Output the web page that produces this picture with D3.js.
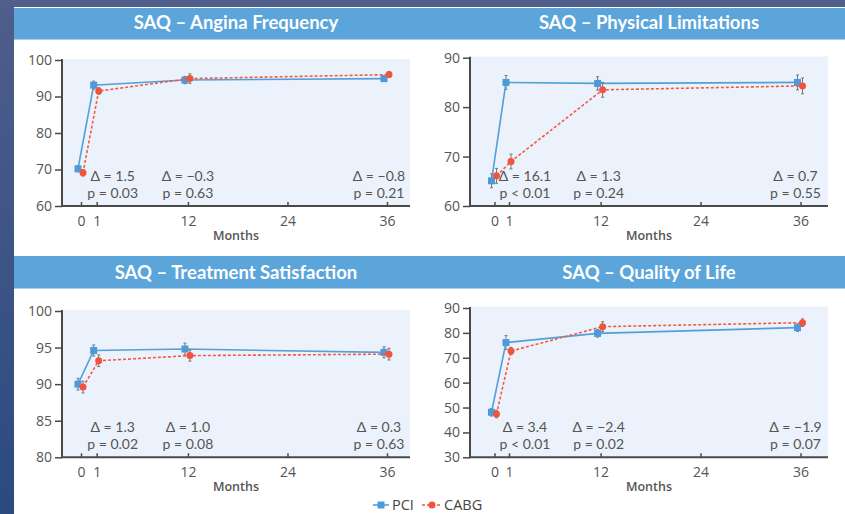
<!DOCTYPE html>
<html>
<head>
<meta charset="utf-8">
<script src="https://cdn.jsdelivr.net/npm/d3@7"></script>
<style>
  body { margin: 0; background: #fff; }
  svg { display: block; font-family: 'Open Sans', sans-serif; }
</style>
</head>
<body>
<div id="chart"></div>
<script>
// months of follow-up
const months = [0, 1, 12, 36]
const xTicks = [0, 1, 12, 24, 36]

// SAQ scores, mean and error
const anginaPci = [70.2, 93.1, 94.5, 94.9]
const anginaPciErr = [0.8, 1.1, 1.0, 0.8]
const anginaCabg = [69.1, 91.5, 94.9, 96.0]
const anginaCabgErr = [0.9, 0.9, 1.3, 0.8]

const physPci = [65.1, 85.0, 84.8, 85.0]
const physPciErr = [1.4, 1.4, 1.35, 1.5]
const physCabg = [66.1, 69.0, 83.5, 84.3]
const physCabgErr = [1.5, 1.5, 1.5, 1.6]

const satPci = [90.0, 94.6, 94.8, 94.35]
const satPciErr = [0.8, 0.75, 0.8, 0.75]
const satCabg = [89.6, 93.2, 93.9, 94.1]
const satCabgErr = [0.8, 0.8, 0.75, 0.8]

const qolPci = [48.1, 76.1, 79.8, 82.1]
const qolPciErr = [1.5, 2.8, 1.5, 1.5]
const qolCabg = [47.4, 72.7, 82.5, 84.1]
const qolCabgErr = [1.5, 1.5, 2.0, 1.5]

// annotations at 1, 12 and 36 months
const annMonths = [1, 12, 36]
const anginaDelta = ['Δ = 1.5', 'Δ = −0.3', 'Δ = −0.8']
const anginaP = ['p = 0.03', 'p = 0.63', 'p = 0.21']
const physDelta = ['Δ = 16.1', 'Δ = 1.3', 'Δ = 0.7']
const physP = ['p < 0.01', 'p = 0.24', 'p = 0.55']
const satDelta = ['Δ = 1.3', 'Δ = 1.0', 'Δ = 0.3']
const satP = ['p = 0.02', 'p = 0.08', 'p = 0.63']
const qolDelta = ['Δ = 3.4', 'Δ = −2.4', 'Δ = −1.9']
const qolP = ['p < 0.01', 'p = 0.02', 'p = 0.07']

const anginaTicks = [60, 70, 80, 90, 100]
const physTicks = [60, 70, 80, 90]
const satTicks = [80, 85, 90, 95, 100]
const qolTicks = [30, 40, 50, 60, 70, 80, 90]

const seriesNames = ['PCI', 'CABG']
const PCI_COLOR = '#559fd9'
const CABG_COLOR = '#f15a43'

const W = 845, H = 514

// column / row geometry
const cols = [
  { axis: 62, right: 410, xr: [81, 96.7, 387], ann: [16, 0, -8] },
  { axis: 470, right: 828, xr: [494.5, 509, 800.5], ann: [16, -2, -5] }
]
const rows = [
  { bar: [8, 40], bottom: 206, titleY: 29 },
  { bar: [256, 289], bottom: 457.3, titleY: 279 }
]

const panels = [
  { title: 'SAQ – Angina Frequency', col: 0, row: 0, top: 60, bgTop: 59, ticks: anginaTicks,
    pci: anginaPci, pciErr: anginaPciErr, cabg: anginaCabg, cabgErr: anginaCabgErr, delta: anginaDelta, p: anginaP },
  { title: 'SAQ – Physical Limitations', col: 1, row: 0, top: 57.7, bgTop: 56.5, ticks: physTicks,
    pci: physPci, pciErr: physPciErr, cabg: physCabg, cabgErr: physCabgErr, delta: physDelta, p: physP },
  { title: 'SAQ – Treatment Satisfaction', col: 0, row: 1, top: 311, bgTop: 310, ticks: satTicks,
    pci: satPci, pciErr: satPciErr, cabg: satCabg, cabgErr: satCabgErr, delta: satDelta, p: satP },
  { title: 'SAQ – Quality of Life', col: 1, row: 1, top: 308, bgTop: 306.5, ticks: qolTicks,
    pci: qolPci, pciErr: qolPciErr, cabg: qolCabg, cabgErr: qolCabgErr, delta: qolDelta, p: qolP }
]

const svg = d3.select('#chart').append('svg')
  .attr('width', W)
  .attr('height', H)

const defs = svg.append('defs')
const grad = defs.append('linearGradient')
  .attr('id', 'side')
  .attr('x1', 0).attr('y1', 0).attr('x2', 0).attr('y2', 1)
grad.append('stop').attr('offset', '0%').attr('stop-color', '#4f5e8b')
grad.append('stop').attr('offset', '100%').attr('stop-color', '#2b4a80')

svg.append('rect').attr('width', W).attr('height', H).attr('fill', 'url(#side)')
svg.append('rect').attr('x', 14).attr('y', 7).attr('width', W - 14).attr('height', H - 7).attr('fill', '#fff')

// title bars
rows.forEach(r => {
  svg.append('rect')
    .attr('x', 14).attr('y', r.bar[0])
    .attr('width', W - 14).attr('height', r.bar[1] - r.bar[0])
    .attr('fill', '#5ba5db')
  svg.append('rect')
    .attr('x', 14).attr('y', r.bar[1] - 1)
    .attr('width', W - 14).attr('height', 1)
    .attr('fill', '#a3cdee')
})

panels.forEach(p => {
  const c = cols[p.col]
  const r = rows[p.row]

  const x = d3.scaleLinear().domain([0, 1, 36]).range(c.xr)
  const y = d3.scaleLinear()
    .domain(d3.extent(p.ticks))
    .range([r.bottom, p.top])

  const g = svg.append('g')

  g.append('text')
    .attr('x', (c.axis + c.right) / 2)
    .attr('y', r.titleY)
    .attr('text-anchor', 'middle')
    .attr('fill', '#fff')
    .style('font-family', 'Lato, sans-serif')
    .style('font-size', '18.5px')
    .style('font-weight', '700')
    .text(p.title)

  g.append('rect')
    .attr('x', c.axis)
    .attr('y', p.bgTop)
    .attr('width', c.right - c.axis)
    .attr('height', r.bottom - p.bgTop)
    .attr('fill', '#ecf2fb')

  // y axis
  const yAxis = g.append('g')
    .attr('transform', `translate(${c.axis},0)`)
    .call(d3.axisLeft(y).tickValues(p.ticks).tickSize(7).tickPadding(3))
  yAxis.select('.domain').attr('stroke', '#4a4a4a').attr('stroke-width', 2)
    .attr('d', `M0,${p.top - 1}V${r.bottom}`)
  yAxis.selectAll('.tick line').attr('stroke', '#4a4a4a').attr('stroke-width', 1.5)
  yAxis.selectAll('.tick text')
    .attr('fill', '#555')
    .style('font-size', '14px')
    .style('font-family', 'Open Sans, sans-serif')

  // x axis, ticks pointing inward
  const xAxis = g.append('g')
    .attr('transform', `translate(0,${r.bottom})`)
    .call(d3.axisBottom(x).tickValues(xTicks).tickSize(-4).tickPadding(8).tickFormat(d3.format('d')))
  xAxis.select('.domain').attr('stroke', '#4a4a4a').attr('stroke-width', 2)
    .attr('d', `M${c.axis - 1},0H${c.right}`)
  xAxis.selectAll('.tick line').attr('stroke', '#4a4a4a').attr('stroke-width', 1.5)
  xAxis.selectAll('.tick text')
    .attr('fill', '#555')
    .attr('dy', '0.85em')
    .style('font-size', '14px')
    .style('font-family', 'Open Sans, sans-serif')

  g.append('text')
    .attr('x', (c.axis + c.right) / 2)
    .attr('y', r.bottom + 34)
    .attr('text-anchor', 'middle')
    .attr('fill', '#555')
    .style('font-size', '12.5px')
    .style('font-weight', '600')
    .text('Months')

  // annotations
  annMonths.forEach((m, i) => {
    const ax = x(m) + c.ann[i]
    g.append('text')
      .attr('x', ax).attr('y', r.bottom - 25)
      .attr('text-anchor', 'middle')
      .attr('fill', '#555')
      .style('font-family', 'Lato, sans-serif')
      .style('font-size', '14px')
      .text(p.delta[i])
    g.append('text')
      .attr('x', ax).attr('y', r.bottom - 8)
      .attr('text-anchor', 'middle')
      .attr('fill', '#555')
      .style('font-family', 'Lato, sans-serif')
      .style('font-size', '14px')
      .text(p.p[i])
  })

  const series = [
    { name: 'PCI', vals: p.pci, errs: p.pciErr, color: PCI_COLOR, dx: -3, dash: null },
    { name: 'CABG', vals: p.cabg, errs: p.cabgErr, color: CABG_COLOR, dx: 2, dash: '3,2' }
  ]

  series.forEach(s => {
    const pts = months.map((m, i) => ({ m, v: s.vals[i], e: s.errs[i] }))
    const px = d => x(d.m) + s.dx

    // error bars
    const eb = g.append('g').attr('stroke', '#777').attr('stroke-width', 1)
    eb.selectAll('line.bar')
      .data(pts)
      .join('line')
      .attr('class', 'bar')
      .attr('x1', px).attr('x2', px)
      .attr('y1', d => y(d.v - d.e)).attr('y2', d => y(d.v + d.e))
    eb.selectAll('line.capTop')
      .data(pts)
      .join('line')
      .attr('class', 'capTop')
      .attr('x1', d => px(d) - 1.5).attr('x2', d => px(d) + 1.5)
      .attr('y1', d => y(d.v + d.e)).attr('y2', d => y(d.v + d.e))
    eb.selectAll('line.capBot')
      .data(pts)
      .join('line')
      .attr('class', 'capBot')
      .attr('x1', d => px(d) - 1.5).attr('x2', d => px(d) + 1.5)
      .attr('y1', d => y(d.v - d.e)).attr('y2', d => y(d.v - d.e))

    const line = d3.line().x(px).y(d => y(d.v))
    g.append('path')
      .datum(pts)
      .attr('fill', 'none')
      .attr('stroke', s.color)
      .attr('stroke-width', 1.6)
      .attr('stroke-dasharray', s.dash)
      .attr('d', line)

    if (s.name === 'PCI') {
      g.selectAll(null)
        .data(pts)
        .join('rect')
        .attr('x', d => px(d) - 3.5)
        .attr('y', d => y(d.v) - 3.5)
        .attr('width', 7).attr('height', 7)
        .attr('fill', '#4d9ad8')
    } else {
      g.selectAll(null)
        .data(pts)
        .join('circle')
        .attr('cx', px)
        .attr('cy', d => y(d.v))
        .attr('r', 3.5)
        .attr('fill', '#f2533d')
    }
  })
})

// legend
const legend = svg.append('g').attr('transform', 'translate(373, 505)')
const legItems = [
  { name: seriesNames[0], color: PCI_COLOR, x: 0 },
  { name: seriesNames[1], color: CABG_COLOR, x: 49 }
]
legItems.forEach((d, i) => {
  const item = legend.append('g').attr('transform', `translate(${d.x},0)`)
  item.append('line')
    .attr('x1', 0).attr('x2', i ? 20 : 16)
    .attr('stroke', d.color)
    .attr('stroke-width', 1.6)
    .attr('stroke-dasharray', i ? '3,2' : null)
  if (i === 0) {
    item.append('rect').attr('x', 4.5).attr('y', -3.5).attr('width', 7).attr('height', 7).attr('fill', '#4d9ad8')
  } else {
    item.append('circle').attr('cx', 10).attr('r', 3.5).attr('fill', '#f2533d')
  }
  item.append('text')
    .attr('x', i ? 22 : 19)
    .attr('y', 0)
    .attr('dy', '0.35em')
    .attr('fill', '#444')
    .style('font-size', '14.5px')
    .text(d.name)
})
</script>
</body>
</html>
